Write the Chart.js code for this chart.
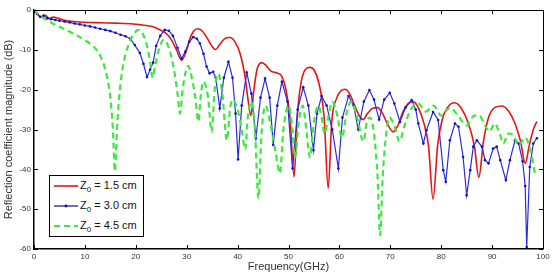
<!DOCTYPE html>
<html>
<head>
<meta charset="utf-8">
<script src="https://cdn.jsdelivr.net/npm/chart.js"></script>
<style>
  body { margin: 0; background: #fff; }
  #wrap { position: relative; width: 553px; height: 280px; }
  #legend {
    position: absolute; left: 49px; top: 175px; width: 93px; height: 60px;
    border: 1.5px solid #000; background: #fff;
    font: 11px "Liberation Sans", Arial, sans-serif; color: #111;
  }
  .row { position: absolute; left: 0; width: 93px; height: 20px; }
  .row svg { position: absolute; left: 4px; top: 0; }
  .row span { position: absolute; left: 30px; top: -1px; line-height: 20px; white-space: nowrap; }
  .row sub { font-size: 8px; vertical-align: -3px; line-height: 0; }
</style>
</head>
<body>
<div id="wrap">
  <canvas id="chart" width="553" height="280"></canvas>
  <div id="legend">
    <div class="row" style="top:0">
      <svg width="24" height="20"><line x1="0" y1="10" x2="24" y2="10" stroke="#e81414" stroke-width="1.6"/></svg>
      <span>Z<sub>0</sub> = 1.5 cm</span>
    </div>
    <div class="row" style="top:20px">
      <svg width="24" height="20"><line x1="0" y1="10" x2="24" y2="10" stroke="#10108c" stroke-width="1.2"/><circle cx="12" cy="10" r="1.4" fill="#10108c"/></svg>
      <span>Z<sub>0</sub> = 3.0 cm</span>
    </div>
    <div class="row" style="top:40px">
      <svg width="24" height="20"><line x1="0" y1="10" x2="24" y2="10" stroke="#3ee83e" stroke-width="2.2" stroke-dasharray="6 4"/></svg>
      <span>Z<sub>0</sub> = 4.5 cm</span>
    </div>
  </div>
</div>
<script>
// ===== data (frequency in GHz, magnitude in dB) =====
const redF = [0, 0.7, 1.4, 2.2, 3, 3.8, 4.8, 6.4, 9, 13, 16, 19.5, 22, 23.4, 24.8, 26, 27, 28, 29, 30, 30.7, 31.3, 32.2, 33, 34, 35, 35.7, 36.5, 37.5, 38.5, 39.5, 40.5, 41.5, 42, 42.6, 43.2, 43.8, 44.7, 45.5, 46.5, 47.7, 48.6, 49.5, 50.3, 51.1, 51.7, 52.5, 53.4, 54.2, 55, 56, 57, 57.8, 58.5, 59.5, 60.3, 61.1, 62, 63, 64, 64.7, 65.5, 66.5, 67.5, 68.5, 69.5, 70.6, 71.5, 72.5, 73.5, 74.5, 75.5, 76.5, 77.5, 78.4, 79.3, 80.2, 81.2, 82.7, 84, 85.2, 86.5, 87.4, 88.3, 89.3, 90.5, 91.9, 93.3, 94.5, 95.6, 96.5, 97.3, 98.1, 98.8];
const redDb = [0, -1.0, -1.9, -1.3, -2.1, -1.8, -2.1, -2.7, -3.0, -3.2, -3.3, -3.5, -3.9, -4.2, -5, -5.9, -7.5, -10, -12.6, -10, -7, -5.4, -4.7, -5.2, -7, -9.2, -9.9, -8.6, -7.2, -6.9, -8, -11, -17, -22, -26.5, -20, -15, -13.2, -13.8, -15.3, -15.8, -16.5, -20, -27, -41.9, -27, -18, -14.8, -14.4, -15, -18.5, -27, -44.8, -28, -22, -20.3, -19.9, -21, -24, -26.8, -27.5, -26, -24.7, -24.5, -26, -28.8, -30.6, -29, -25.5, -23.5, -23, -24.5, -28, -34, -47.5, -34, -27.5, -24.5, -23.3, -24.8, -28, -34, -42, -33, -27, -24.5, -24.1, -25.5, -28.5, -33, -38.5, -34, -30, -28];

const blueF = [0, 0.6, 1.2, 1.9, 2.6, 3.4, 4.2, 5, 6, 7, 8, 9, 10, 11, 12, 13, 14, 15, 16, 17, 18, 18.9, 19.8, 20.8, 21.5, 22.2, 22.8, 23.4, 24, 24.8, 25.7, 26.5, 27.3, 28.2, 29, 29.7, 30.5, 31.3, 32, 32.6, 33.3, 33.9, 34.5, 35.2, 35.7, 36.5, 37.3, 38.2, 39, 39.6, 40.1, 40.8, 41.8, 42.7, 43.6, 44.5, 45.4, 46.3, 47, 47.8, 48.7, 49.8, 50.8, 51.8, 52.9, 53.9, 54.9, 55.6, 56.5, 57.5, 58.6, 59.8, 60.6, 61.8, 62.8, 63.7, 64.8, 65.9, 66.8, 67.8, 68.8, 69.9, 70.8, 71.9, 73, 74.2, 75, 75.5, 76.5, 77.1, 78.4, 79.4, 80.4, 80.9, 81.7, 82.7, 83.4, 84.3, 85, 85.7, 86.3, 87, 88, 88.6, 89.3, 90.2, 90.9, 91.6, 92.7, 93.5, 94.5, 95.2, 96, 96.5, 96.8, 97.4, 98.1, 98.8];
const blueDb = [0, -1.0, -1.7, -1.4, -2.1, -2.3, -2.5, -2.7, -2.9, -3.1, -3.4, -3.6, -3.9, -4.1, -4.4, -4.7, -5.0, -5.3, -5.7, -6.2, -6.6, -7.2, -8.8, -10.8, -13.5, -16.8, -15, -13.2, -9, -6.5, -5.0, -5.2, -6.5, -9.5, -12.2, -10.5, -8, -6.8, -7.2, -8.4, -11, -14.2, -15.9, -15.5, -17, -24.7, -17, -13, -17, -26, -37.5, -24, -15.7, -21, -32.2, -22, -17.2, -22, -33.9, -24, -18, -23, -39.8, -25, -19.4, -24, -35.2, -26, -21.6, -24, -30, -39.8, -27, -21.6, -24, -30, -23, -20.1, -22.5, -27.5, -22.5, -20.8, -23.5, -28.1, -24.5, -22.6, -25, -28.5, -33.5, -30.2, -25.6, -27.6, -40.2, -43.1, -32.7, -28.5, -29.3, -36.9, -46.5, -40.2, -34.3, -32.7, -34.3, -37.7, -38.5, -34.8, -34.3, -37.7, -42.7, -37.7, -32.7, -33.5, -38, -44.2, -59.5, -39.4, -33.5, -32.2];

const greenF = [0, 1, 2, 4, 6, 8, 10, 11.7, 13, 14, 15, 15.5, 15.9, 16.3, 16.8, 17.5, 18.5, 19.5, 20.5, 21.3, 22.2, 22.8, 23.3, 23.8, 24.5, 25.5, 26.5, 27.5, 28.2, 28.7, 29.2, 29.8, 30.3, 31, 31.7, 32.3, 32.8, 33.3, 34.2, 34.9, 35.5, 36.2, 37, 37.9, 38.5, 39, 40, 40.8, 41.5, 42, 42.7, 43.4, 44.1, 44.7, 45.5, 46.5, 47.5, 48.3, 49, 50, 50.7, 51.3, 52, 52.8, 53.5, 54.2, 55, 55.9, 56.5, 57.1, 57.8, 58.6, 59.5, 60.5, 61.4, 62.3, 63.5, 64.7, 65.4, 66, 66.8, 67.5, 68, 68.5, 69.2, 69.8, 70.8, 71.8, 72.8, 74, 75.5, 77, 78.5, 80, 81.7, 83.3, 85, 86.5, 87.5, 88.6, 89.5, 90.5, 91.5, 92.2, 93.2, 94.2, 95.2, 96.5, 97.5, 98.4];
const greenDb = [0, -1.2, -2.2, -3.6, -4.8, -6.1, -7.6, -9.2, -11.5, -15, -22, -30, -40.5, -30, -21, -14, -9, -6.2, -5, -5.8, -9, -13, -17, -14, -10, -7.5, -9.5, -15, -21, -26, -20, -15.5, -14, -17, -22, -28, -21, -18, -22, -30.6, -20, -16, -21, -32.7, -25, -22.5, -25, -30, -35, -27, -23, -30, -47.3, -31, -24, -29, -36, -41, -30, -24, -29, -37, -28, -24, -30, -37, -28, -24, -27, -31, -27, -23, -26, -32, -26, -23, -27, -33, -28, -27, -31, -42, -56.5, -42, -31, -27, -29, -33, -29, -25, -23.5, -25.5, -24, -26.5, -24.5, -26.5, -29, -26.5, -26.5, -29, -30.5, -28.5, -31, -33.5, -31, -31.5, -34, -32, -35, -41];

const xRange = [0, 100];
const yRange = [-60, 0];
const tickStep = 10;

const toPts = (f, d) => f.map((v, i) => ({ x: v, y: d[i] }));

// MATLAB style box with inward ticks on all four sides
const boxTicks = {
  id: "boxTicks",
  afterDraw(chart) {
    const { ctx, chartArea: a, scales: { x, y } } = chart;
    ctx.save();
    ctx.strokeStyle = "#000";
    ctx.lineWidth = 1;
    ctx.beginPath();
    x.ticks.forEach(t => {
      const px = Math.round(x.getPixelForValue(t.value)) + 0.5;
      ctx.moveTo(px, a.bottom); ctx.lineTo(px, a.bottom - 4);
      ctx.moveTo(px, a.top); ctx.lineTo(px, a.top + 4);
    });
    y.ticks.forEach(t => {
      const py = Math.round(y.getPixelForValue(t.value)) + 0.5;
      ctx.moveTo(a.left, py); ctx.lineTo(a.left + 4, py);
      ctx.moveTo(a.right, py); ctx.lineTo(a.right - 4, py);
    });
    ctx.stroke();
    ctx.beginPath();
    ctx.moveTo(a.left, a.top + 0.5);
    ctx.lineTo(a.right + 0.5, a.top + 0.5);
    ctx.lineTo(a.right + 0.5, a.bottom);
    ctx.stroke();
    ctx.restore();
  }
};

const tickFont = { family: "'Liberation Sans', Arial, sans-serif", size: 8 };
const titleFont = { family: "'Liberation Sans', Arial, sans-serif", size: 11 };

new Chart(document.getElementById("chart").getContext("2d"), {
  type: "line",
  data: {
    datasets: [
      {
        label: "Z0 = 1.5 cm",
        data: toPts(redF, redDb),
        borderColor: "#e81414",
        borderWidth: 1.6,
        pointRadius: 0,
        cubicInterpolationMode: "monotone",
        order: 3
      },
      {
        label: "Z0 = 3.0 cm",
        data: toPts(blueF, blueDb),
        borderColor: "#2b2be0",
        borderWidth: 1.2,
        pointRadius: 1.3,
        pointBorderWidth: 0,
        pointBackgroundColor: "#1212b8",
        order: 2
      },
      {
        label: "Z0 = 4.5 cm",
        data: toPts(greenF, greenDb),
        borderColor: "#3ee83e",
        borderWidth: 2.2,
        borderDash: [6, 4],
        pointRadius: 0,
        cubicInterpolationMode: "monotone",
        order: 1
      }
    ]
  },
  options: {
    responsive: false,
    animation: false,
    layout: { padding: { left: 0, top: 10, right: 10, bottom: 0 } },
    plugins: { legend: { display: false }, tooltip: { enabled: false } },
    scales: {
      x: {
        type: "linear",
        min: xRange[0], max: xRange[1],
        afterFit: s => { s.height = 31; },
        grid: { display: false, drawTicks: false, tickLength: 0 },
        border: { display: true, color: "#000", width: 1.5 },
        ticks: { stepSize: tickStep, padding: 3, color: "#333", font: tickFont, maxRotation: 0 },
        title: { display: true, text: "Frequency(GHz)", color: "#333", font: titleFont, padding: { top: 0, bottom: 6 } }
      },
      y: {
        type: "linear",
        min: yRange[0], max: yRange[1],
        afterFit: s => { s.width = 34; },
        grid: { display: false, drawTicks: false, tickLength: 0 },
        border: { display: true, color: "#000", width: 1.5 },
        ticks: { stepSize: tickStep, padding: 3, color: "#333", font: tickFont },
        title: { display: true, text: "Reflection coefficient magnitude (dB)", color: "#333", font: titleFont, padding: { top: 2, bottom: 0 } }
      }
    }
  },
  plugins: [boxTicks]
});
</script>
</body>
</html>
